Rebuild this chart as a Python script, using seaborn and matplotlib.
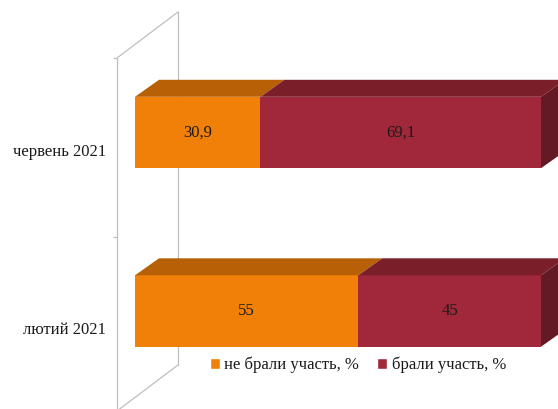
import matplotlib
matplotlib.use("Agg")
import matplotlib.pyplot as plt
import matplotlib.patches as mpatches
import seaborn as sns
import pandas as pd

categories = ["червень 2021", "лютий 2021"]
not_part = [30.9, 55]
part = [69.1, 45]
series_names = ["не брали участь, %", "брали участь, %"]

front = ["#F08007", "#A0283A"]
topc = ["#B86005", "#7A1E2A"]
sidec = "#641A24"
wall = "#BFBFBF"

sns.set_theme(style="white")
plt.rcParams["font.family"] = ["Liberation Serif", "DejaVu Serif"]

W, H = 558, 409
fig = plt.figure(figsize=(W / 100, H / 100), dpi=100)
ax = fig.add_axes([117 / W, 0, 1 - 117 / W, 1])

df = pd.DataFrame({"cat": categories, "a": not_part, "b": part})
df["total"] = df["a"] + df["b"]

bh = 0.4
sns.barplot(data=df, x="total", y="cat", orient="h", color=front[1],
            width=bh, saturation=1, ax=ax, linewidth=0, zorder=2)
sns.barplot(data=df, x="a", y="cat", orient="h", color=front[0],
            width=bh, saturation=1, ax=ax, linewidth=0, zorder=2)

pxx = 4.06   # pixels per x unit
pxy = 178.5  # pixels per category unit
xl = -18 / pxx
xr = (W - 135) / pxx
yt = -132.5 / pxy
yb = (H - 132.5) / pxy
ax.set_xlim(xl, xr)
ax.set_ylim(yb, yt)

fs = 12
dx = 24 / pxx
dy = 17 / pxy
for i in range(len(categories)):
    top = i - bh / 2
    bot = i + bh / 2
    segs = [(0, not_part[i], topc[0]), (not_part[i], not_part[i] + part[i], topc[1])]
    for l, r, c in segs:
        ax.add_patch(mpatches.Polygon([(l, top), (r, top), (r + dx, top - dy), (l + dx, top - dy)],
                                      closed=True, facecolor=c, edgecolor="none", zorder=3))
    R = not_part[i] + part[i]
    ax.add_patch(mpatches.Polygon([(R, top), (R + dx, top - dy), (R + dx, bot - dy), (R, bot)],
                                  closed=True, facecolor=sidec, edgecolor="none", zorder=3))
    ax.text(not_part[i] / 2, i, f"{not_part[i]:g}".replace(".", ","), ha="center", va="center",
            fontsize=fs, color="#1a1a1a", zorder=4)
    ax.text(not_part[i] + part[i] / 2, i, f"{part[i]:g}".replace(".", ","), ha="center", va="center",
            fontsize=fs, color="#1a1a1a", zorder=4)

# walls
wdx = 61 / pxx
front_top = (58 - 132.5) / pxy
back_top = (12 - 132.5) / pxy
back_bot = (365 - 132.5) / pxy
wdy = front_top - back_top
ax.plot([xl, xl + wdx], [front_top, back_top], color=wall, lw=0.9, zorder=0.5)
ax.plot([xl + wdx, xl + wdx], [back_top, back_bot], color=wall, lw=0.9, zorder=0.5)
ax.plot([xl + wdx, xl], [back_bot, back_bot + wdy], color=wall, lw=0.9, zorder=0.5)

for s in ["top", "right", "bottom"]:
    ax.spines[s].set_visible(False)
ax.spines["left"].set_color(wall)
ax.spines["left"].set_linewidth(0.9)
ax.spines["left"].set_bounds(front_top, yb)

ax.set_xlabel("")
ax.set_ylabel("")
ax.set_xticks([])
lab_off = 17 / pxy
ax.set_yticks([i + lab_off for i in range(len(categories))], categories)
ax.tick_params(axis="y", which="major", length=0, pad=8, labelsize=fs, labelcolor="#1a1a1a")
ax.set_yticks([front_top, front_top + 1], minor=True)
ax.tick_params(axis="y", which="minor", length=3, width=0.9, color=wall, left=True)

handles = [mpatches.Patch(facecolor=front[0], label=series_names[0]),
           mpatches.Patch(facecolor=front[1], label=series_names[1])]
fig.legend(handles=handles, loc="center", bbox_to_anchor=(358 / W, 1 - 365 / H), ncol=2,
           frameon=False, fontsize=fs, handlelength=0.6, handleheight=0.6,
           handletextpad=0.25, columnspacing=1.1, labelcolor="#1a1a1a")

fig.savefig("out.png", dpi=100)
